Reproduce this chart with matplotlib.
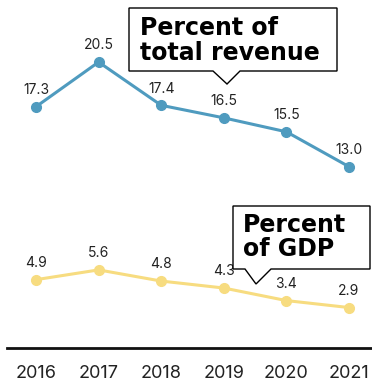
import matplotlib
matplotlib.use("Agg")
import matplotlib.pyplot as plt
from matplotlib.patches import Polygon

years = [2016, 2017, 2018, 2019, 2020, 2021]
pct_revenue = [17.3, 20.5, 17.4, 16.5, 15.5, 13.0]
pct_gdp = [4.9, 5.6, 4.8, 4.3, 3.4, 2.9]

BLUE = "#4f9bbf"
YELLOW = "#f7dc80"
W, H = 372, 382

fig = plt.figure(figsize=(W / 100, H / 100), dpi=100)
ax = fig.add_axes([0, 0, 1, 1])
ax.set_xlim(2015.425, 2021.367)
ax.set_ylim(-2.437, 24.95)
ax.axis("off")


def px(x, y):
    # pixel position (origin top-left) -> figure fraction
    return (x / W, 1 - y / H)


def callout(left, top, right, bottom, base0, base1, tip, lines, text_x, baselines):
    pts = [(left, top), (right, top), (right, bottom), (base1, bottom),
           tip, (base0, bottom), (left, bottom)]
    poly = Polygon([px(*p) for p in pts], closed=True, transform=fig.transFigure,
                   facecolor="white", edgecolor="black", lw=1.0, zorder=5)
    fig.patches.append(poly)
    for line, yb in zip(lines, baselines):
        fig.text(*px(text_x, yb), line, fontsize=17, family="DejaVu Sans",
                 weight="bold", va="baseline", ha="left", zorder=6)


for vals, color in [(pct_revenue, BLUE), (pct_gdp, YELLOW)]:
    ax.plot(years, vals, color=color, lw=2.2, marker="o", ms=7, zorder=3)
    for x, v in zip(years, vals):
        ax.annotate(f"{v:.1f}", (x, v), xytext=(0, 7), textcoords="offset points",
                    ha="center", va="bottom", fontsize=10, family="Inter",
                    color="#222222")

ax.axhline(0, xmin=7 / W, xmax=1, color="#111111", lw=2)
for x in years:
    ax.text(x, -1.86, str(x), ha="center", va="center", fontsize=13,
            family="Inter", color="#222222")

callout(129, 8, 337, 71, 213, 240, (227, 84),
        ["Percent of", "total revenue"], 140, [35, 60])
callout(233, 206, 370, 269, 245, 271, (256, 284),
        ["Percent", "of GDP"], 243, [232, 256])

fig.savefig("out.png", dpi=100)
